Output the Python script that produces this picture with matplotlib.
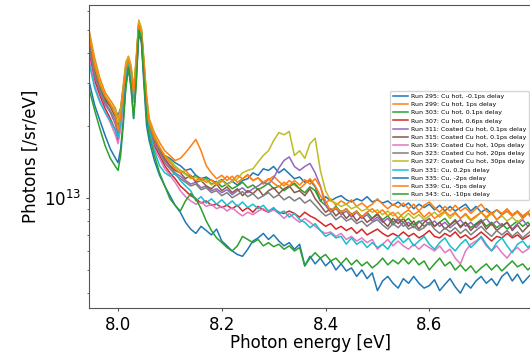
import matplotlib
matplotlib.use("Agg")
import matplotlib.pyplot as plt
from matplotlib.ticker import NullFormatter, MultipleLocator
import numpy as np

# photon energy grid [eV]
energy_peak = [7.945, 7.955, 7.965, 7.975, 7.985, 7.995, 8.000, 8.005, 8.010, 8.015,
               8.020, 8.025, 8.030, 8.035, 8.040, 8.045, 8.050, 8.055, 8.060, 8.070, 8.080]
energy_tail = [round(8.09 + 0.01 * i, 2) for i in range(72)]
energy = energy_peak + energy_tail

UNIT = 1e13  # values below are in units of 1e13 photons/sr/eV

run295 = [4.54, 3.57, 2.94, 2.61, 2.43, 2.31, 2.20, 2.36, 2.86, 3.53, 3.82, 3.47, 2.80, 3.67, 5.40, 5.00, 3.57, 2.55, 2.06, 1.77, 1.60,
          1.50, 1.46, 1.40, 1.36, 1.30, 1.32, 1.24, 1.20, 1.22, 1.18,
          1.16, 1.19, 1.14, 1.17, 1.13, 1.18, 1.20, 1.27, 1.24, 1.32,
          1.30, 1.35, 1.27, 1.32, 1.26, 1.20, 1.22, 1.16, 1.18, 1.11,
          0.97, 1.01, 0.97, 1.00, 1.02, 0.98, 0.96, 0.99, 0.97, 1.01,
          0.96, 0.98, 0.95, 0.97, 0.93, 0.96, 0.92, 0.95, 0.90, 0.94,
          0.91, 0.94, 0.89, 0.93, 0.88, 0.92, 0.88, 0.91, 0.94, 0.88,
          0.92, 0.87, 0.90, 0.86, 0.89, 0.85, 0.88, 0.84, 0.88, 0.83,
          0.87, 0.82]
run299 = [4.90, 3.82, 3.15, 2.75, 2.55, 2.36, 2.14, 2.36, 2.94, 3.67, 3.89, 3.57, 2.86, 3.82, 5.50, 5.09, 3.74, 2.67, 2.14, 1.87, 1.70,
          1.57, 1.50, 1.43, 1.46, 1.54, 1.64, 1.75, 1.57, 1.36, 1.27,
          1.20, 1.24, 1.18, 1.23, 1.16, 1.20, 1.24, 1.18, 1.21, 1.14,
          1.19, 1.23, 1.17, 1.12, 1.18, 1.13, 1.09, 1.14, 1.20, 1.12,
          1.02, 0.95, 0.99, 0.93, 0.97, 0.94, 0.98, 0.92, 0.95, 0.91,
          0.94, 0.99, 0.94, 0.90, 0.94, 0.91, 0.95, 0.90, 0.94, 0.88,
          0.93, 0.96, 0.91, 0.87, 0.92, 0.88, 0.93, 0.88, 0.91, 0.86,
          0.90, 0.94, 0.88, 0.85, 0.89, 0.86, 0.90, 0.85, 0.88, 0.84,
          0.87, 0.91]
run303 = [4.33, 3.40, 2.86, 2.55, 2.40, 2.18, 2.00, 2.25, 2.80, 3.47, 3.74, 3.40, 2.67, 3.57, 5.30, 4.90, 3.47, 2.50, 2.03, 1.73, 1.57,
          1.50, 1.43, 1.35, 1.30, 1.26, 1.21, 1.24, 1.18, 1.20, 1.14,
          1.17, 1.11, 1.14, 1.09, 1.12, 1.16, 1.10, 1.13, 1.08, 1.11,
          1.15, 1.09, 1.12, 1.07, 1.11, 1.15, 1.09, 1.05, 1.11, 1.07,
          0.97, 0.93, 0.88, 0.92, 0.87, 0.90, 0.85, 0.88, 0.83, 0.87,
          0.82, 0.85, 0.81, 0.84, 0.79, 0.82, 0.79, 0.82, 0.77, 0.80,
          0.76, 0.79, 0.76, 0.79, 0.82, 0.77, 0.80, 0.76, 0.79, 0.75,
          0.78, 0.81, 0.76, 0.79, 0.75, 0.78, 0.74, 0.77, 0.80, 0.76,
          0.79, 0.74]
run307 = [3.93, 3.09, 2.67, 2.36, 2.14, 1.91, 1.73, 2.00, 2.55, 3.24, 3.64, 3.24, 2.55, 3.33, 5.00, 4.63, 3.24, 2.31, 1.91, 1.65, 1.50,
          1.36, 1.27, 1.20, 1.12, 1.07, 1.02, 0.99, 0.95, 0.97, 0.93,
          0.94, 0.91, 0.93, 0.90, 0.93, 0.88, 0.91, 0.87, 0.92, 0.89,
          0.87, 0.90, 0.87, 0.86, 0.88, 0.86, 0.83, 0.87, 0.84, 0.82,
          0.79, 0.76, 0.78, 0.74, 0.76, 0.73, 0.75, 0.71, 0.74, 0.70,
          0.72, 0.74, 0.71, 0.69, 0.71, 0.69, 0.72, 0.69, 0.71, 0.68,
          0.70, 0.73, 0.69, 0.68, 0.71, 0.69, 0.72, 0.68, 0.70, 0.67,
          0.69, 0.72, 0.69, 0.66, 0.69, 0.68, 0.71, 0.68, 0.70, 0.67,
          0.69, 0.71]
run311 = [4.12, 3.21, 2.75, 2.45, 2.27, 2.02, 1.82, 2.10, 2.65, 3.40, 3.71, 3.33, 2.65, 3.53, 5.19, 4.81, 3.40, 2.40, 1.94, 1.70, 1.54,
          1.43, 1.35, 1.27, 1.23, 1.18, 1.14, 1.16, 1.10, 1.12, 1.07,
          1.09, 1.05, 1.08, 1.03, 1.07, 1.10, 1.05, 1.09, 1.12, 1.16,
          1.14, 1.21, 1.33, 1.43, 1.48, 1.35, 1.30, 1.35, 1.39, 1.27,
          1.12, 0.93, 0.87, 0.90, 0.85, 0.88, 0.83, 0.87, 0.82, 0.85,
          0.80, 0.83, 0.79, 0.82, 0.77, 0.81, 0.76, 0.79, 0.75, 0.79,
          0.81, 0.77, 0.80, 0.76, 0.79, 0.75, 0.78, 0.81, 0.76, 0.79,
          0.75, 0.79, 0.82, 0.77, 0.80, 0.76, 0.79, 0.74, 0.78, 0.81,
          0.76, 0.79]
run315 = [4.45, 3.33, 2.80, 2.55, 2.40, 2.18, 1.94, 2.22, 2.72, 3.40, 3.71, 3.40, 2.65, 3.47, 5.14, 4.86, 3.47, 2.47, 2.02, 1.73, 1.57,
          1.46, 1.36, 1.30, 1.27, 1.20, 1.24, 1.16, 1.18, 1.12, 1.09,
          1.14, 1.07, 1.11, 1.05, 1.09, 1.02, 1.07, 1.04, 1.09, 1.02,
          1.07, 1.10, 1.04, 1.09, 1.12, 1.05, 1.07, 1.02, 1.09, 0.99,
          0.93, 0.87, 0.90, 0.84, 0.88, 0.82, 0.86, 0.80, 0.84, 0.79,
          0.82, 0.86, 0.80, 0.76, 0.82, 0.78, 0.82, 0.76, 0.80, 0.74,
          0.79, 0.82, 0.76, 0.79, 0.74, 0.77, 0.81, 0.75, 0.79, 0.73,
          0.77, 0.80, 0.74, 0.78, 0.73, 0.76, 0.79, 0.73, 0.77, 0.72,
          0.76, 0.79]
run319 = [3.74, 2.94, 2.55, 2.27, 2.06, 1.82, 1.68, 1.94, 2.50, 3.21, 3.60, 3.21, 2.50, 3.27, 4.90, 4.54, 3.15, 2.27, 1.87, 1.60, 1.46,
          1.32, 1.24, 1.16, 1.07, 1.01, 0.97, 0.94, 0.96, 0.92, 0.94,
          0.90, 0.92, 0.88, 0.91, 0.87, 0.84, 0.87, 0.85, 0.88, 0.90,
          0.87, 0.89, 0.86, 0.82, 0.86, 0.82, 0.79, 0.82, 0.79, 0.76,
          0.73, 0.71, 0.72, 0.69, 0.71, 0.67, 0.69, 0.66, 0.68, 0.65,
          0.67, 0.61, 0.64, 0.67, 0.63, 0.66, 0.63, 0.61, 0.64, 0.61,
          0.64, 0.62, 0.60, 0.63, 0.59, 0.61, 0.56, 0.53, 0.60, 0.64,
          0.66, 0.68, 0.63, 0.60, 0.63, 0.59, 0.56, 0.60, 0.62, 0.59,
          0.61, 0.64]
run323 = [4.20, 3.27, 2.80, 2.50, 2.31, 2.10, 1.87, 2.18, 2.70, 3.40, 3.71, 3.37, 2.62, 3.50, 5.14, 4.76, 3.40, 2.45, 1.98, 1.71, 1.56,
          1.40, 1.32, 1.25, 1.20, 1.16, 1.12, 1.14, 1.08, 1.10, 1.05,
          1.07, 1.02, 1.05, 1.00, 1.03, 1.06, 1.01, 1.04, 0.99, 1.02,
          1.05, 1.00, 1.03, 0.98, 1.01, 0.97, 1.00, 0.95, 0.98, 0.93,
          0.88, 0.84, 0.86, 0.81, 0.84, 0.80, 0.82, 0.78, 0.80, 0.76,
          0.79, 0.81, 0.77, 0.74, 0.78, 0.75, 0.79, 0.74, 0.76, 0.73,
          0.75, 0.79, 0.74, 0.71, 0.75, 0.72, 0.75, 0.71, 0.74, 0.70,
          0.73, 0.76, 0.72, 0.69, 0.73, 0.70, 0.73, 0.69, 0.72, 0.68,
          0.71, 0.74]
run327 = [4.76, 3.67, 3.03, 2.67, 2.47, 2.31, 2.06, 2.31, 2.86, 3.60, 3.85, 3.50, 2.80, 3.74, 5.45, 5.05, 3.67, 2.61, 2.10, 1.82, 1.63,
          1.50, 1.43, 1.35, 1.30, 1.25, 1.20, 1.22, 1.17, 1.19, 1.13,
          1.16, 1.18, 1.13, 1.17, 1.20, 1.27, 1.30, 1.32, 1.41, 1.50,
          1.57, 1.73, 1.87, 1.83, 1.89, 1.50, 1.57, 1.46, 1.68, 1.77,
          1.30, 1.07, 0.97, 0.95, 0.92, 0.94, 0.90, 0.92, 0.88, 0.90,
          0.87, 0.89, 0.85, 0.88, 0.84, 0.87, 0.82, 0.86, 0.82, 0.85,
          0.81, 0.84, 0.87, 0.83, 0.87, 0.82, 0.86, 0.82, 0.85, 0.80,
          0.83, 0.87, 0.82, 0.86, 0.81, 0.84, 0.80, 0.83, 0.79, 0.82,
          0.86, 0.82]
run331 = [3.57, 2.86, 2.50, 2.27, 2.10, 1.91, 1.78, 2.06, 2.61, 3.27, 3.64, 3.27, 2.61, 3.40, 5.09, 4.72, 3.33, 2.36, 1.91, 1.57, 1.36,
          1.27, 1.23, 1.27, 1.18, 1.12, 1.07, 0.97, 1.01, 0.95, 0.99,
          0.94, 0.98, 0.93, 0.97, 0.92, 0.96, 0.91, 0.94, 0.90, 0.93,
          0.88, 0.91, 0.86, 0.88, 0.83, 0.86, 0.81, 0.79, 0.75, 0.78,
          0.73, 0.69, 0.71, 0.68, 0.69, 0.64, 0.68, 0.64, 0.66, 0.62,
          0.65, 0.62, 0.64, 0.61, 0.66, 0.69, 0.65, 0.68, 0.63, 0.66,
          0.69, 0.64, 0.61, 0.65, 0.68, 0.63, 0.60, 0.64, 0.67, 0.62,
          0.65, 0.69, 0.64, 0.60, 0.65, 0.68, 0.63, 0.59, 0.64, 0.66,
          0.62, 0.65]
run335 = [3.00, 2.43, 2.10, 1.82, 1.60, 1.46, 1.40, 1.60, 2.10, 2.94, 3.50, 2.94, 2.14, 3.03, 4.86, 4.45, 2.94, 2.00, 1.73, 1.43, 1.24,
          1.12, 1.02, 0.93, 0.87, 0.79, 0.74, 0.71, 0.76, 0.73, 0.70,
          0.74, 0.66, 0.63, 0.60, 0.58, 0.57, 0.61, 0.66, 0.68, 0.71,
          0.67, 0.70, 0.66, 0.63, 0.65, 0.61, 0.64, 0.52, 0.57, 0.53,
          0.56, 0.52, 0.545, 0.50, 0.53, 0.495, 0.51, 0.47, 0.50, 0.46,
          0.486, 0.41, 0.45, 0.47, 0.44, 0.42, 0.46, 0.44, 0.47, 0.44,
          0.42, 0.43, 0.455, 0.41, 0.435, 0.46, 0.425, 0.40, 0.44, 0.42,
          0.45, 0.47, 0.44, 0.46, 0.43, 0.47, 0.49, 0.45, 0.48, 0.44,
          0.465, 0.49]
run339 = [4.63, 3.53, 2.97, 2.65, 2.45, 2.22, 1.91, 2.18, 2.75, 3.47, 3.74, 3.40, 2.70, 3.60, 5.25, 4.90, 3.53, 2.55, 2.06, 1.78, 1.62,
          1.49, 1.40, 1.32, 1.27, 1.30, 1.23, 1.18, 1.21, 1.16, 1.19,
          1.13, 1.17, 1.23, 1.18, 1.24, 1.20, 1.25, 1.18, 1.21, 1.16,
          1.20, 1.15, 1.11, 1.16, 1.12, 1.18, 1.13, 1.19, 1.14, 1.20,
          1.11, 0.97, 0.88, 0.91, 0.87, 0.90, 0.85, 0.88, 0.83, 0.87,
          0.90, 0.86, 0.89, 0.84, 0.87, 0.82, 0.86, 0.89, 0.85, 0.88,
          0.83, 0.87, 0.82, 0.85, 0.88, 0.84, 0.87, 0.82, 0.86, 0.81,
          0.84, 0.87, 0.83, 0.87, 0.81, 0.85, 0.88, 0.84, 0.87, 0.82,
          0.86, 0.81]
run343 = [2.80, 2.31, 1.94, 1.65, 1.46, 1.35, 1.30, 1.50, 2.00, 2.86, 3.47, 2.86, 2.14, 2.97, 5.00, 4.63, 3.09, 2.14, 1.82, 1.50, 1.27,
          1.12, 0.99, 0.93, 0.88, 0.97, 1.04, 0.99, 0.90, 0.80, 0.73,
          0.68, 0.65, 0.62, 0.60, 0.63, 0.69, 0.67, 0.65, 0.67, 0.63,
          0.65, 0.625, 0.64, 0.61, 0.63, 0.60, 0.62, 0.52, 0.56, 0.59,
          0.56, 0.58, 0.545, 0.56, 0.53, 0.56, 0.525, 0.55, 0.52, 0.54,
          0.51, 0.53, 0.56, 0.525, 0.55, 0.53, 0.56, 0.53, 0.56, 0.525,
          0.545, 0.50, 0.53, 0.56, 0.52, 0.54, 0.50, 0.525, 0.495, 0.52,
          0.486, 0.51, 0.53, 0.50, 0.525, 0.495, 0.52, 0.545, 0.515, 0.53,
          0.50, 0.525]

series = [run295, run299, run303, run307, run311, run315, run319,
          run323, run327, run331, run335, run339, run343]
labels = ["Run 295: Cu hot, -0.1ps delay",
          "Run 299: Cu hot, 1ps delay",
          "Run 303: Cu hot, 0.1ps delay",
          "Run 307: Cu hot, 0.6ps delay",
          "Run 311: Coated Cu hot, 0.1ps delay",
          "Run 315: Coated Cu hot, 0.1ps delay",
          "Run 319: Coated Cu hot, 10ps delay",
          "Run 323: Coated Cu hot, 20ps delay",
          "Run 327: Coated Cu hot, 30ps delay",
          "Run 331: Cu, 0.2ps delay",
          "Run 335: Cu, -2ps delay",
          "Run 339: Cu, -5ps delay",
          "Run 343: Cu, -10ps delay"]

W, H = 530, 352
fig = plt.figure(figsize=(W / 100, H / 100), dpi=100)
# axes right spine falls just past the right edge of the picture (cropped like the reference)
ax = fig.add_axes([89 / W, 44 / H, (532 - 89) / W, 303 / H])

for vals, lab in zip(series, labels):
    ax.plot(energy, np.array(vals) * UNIT, lw=1.1, label=lab)

ax.set_yscale("log")
ax.set_xlim(7.944, 8.798)
ax.set_ylim(3.47e12, 6.36e13)
ax.xaxis.set_major_locator(MultipleLocator(0.2))
ax.yaxis.set_minor_formatter(NullFormatter())
ax.tick_params(which="major", labelsize=12, length=2.5, pad=3, color="#555555")
ax.tick_params(which="minor", length=1.5, color="#555555")
ax.set_xlabel("Photon energy [eV]", fontsize=12, labelpad=0)
ax.set_ylabel("Photons [/sr/eV]", fontsize=12, labelpad=3)
for s in ax.spines.values():
    s.set_color("#555555")

ax.legend(loc="upper left", bbox_to_anchor=(387 / W, 1 - 88 / H),
          bbox_transform=fig.transFigure, fontsize=4.5,
          handlelength=2.4, handletextpad=0.5, labelspacing=0.45,
          borderpad=0.4)

fig.savefig("out.png", dpi=100)
